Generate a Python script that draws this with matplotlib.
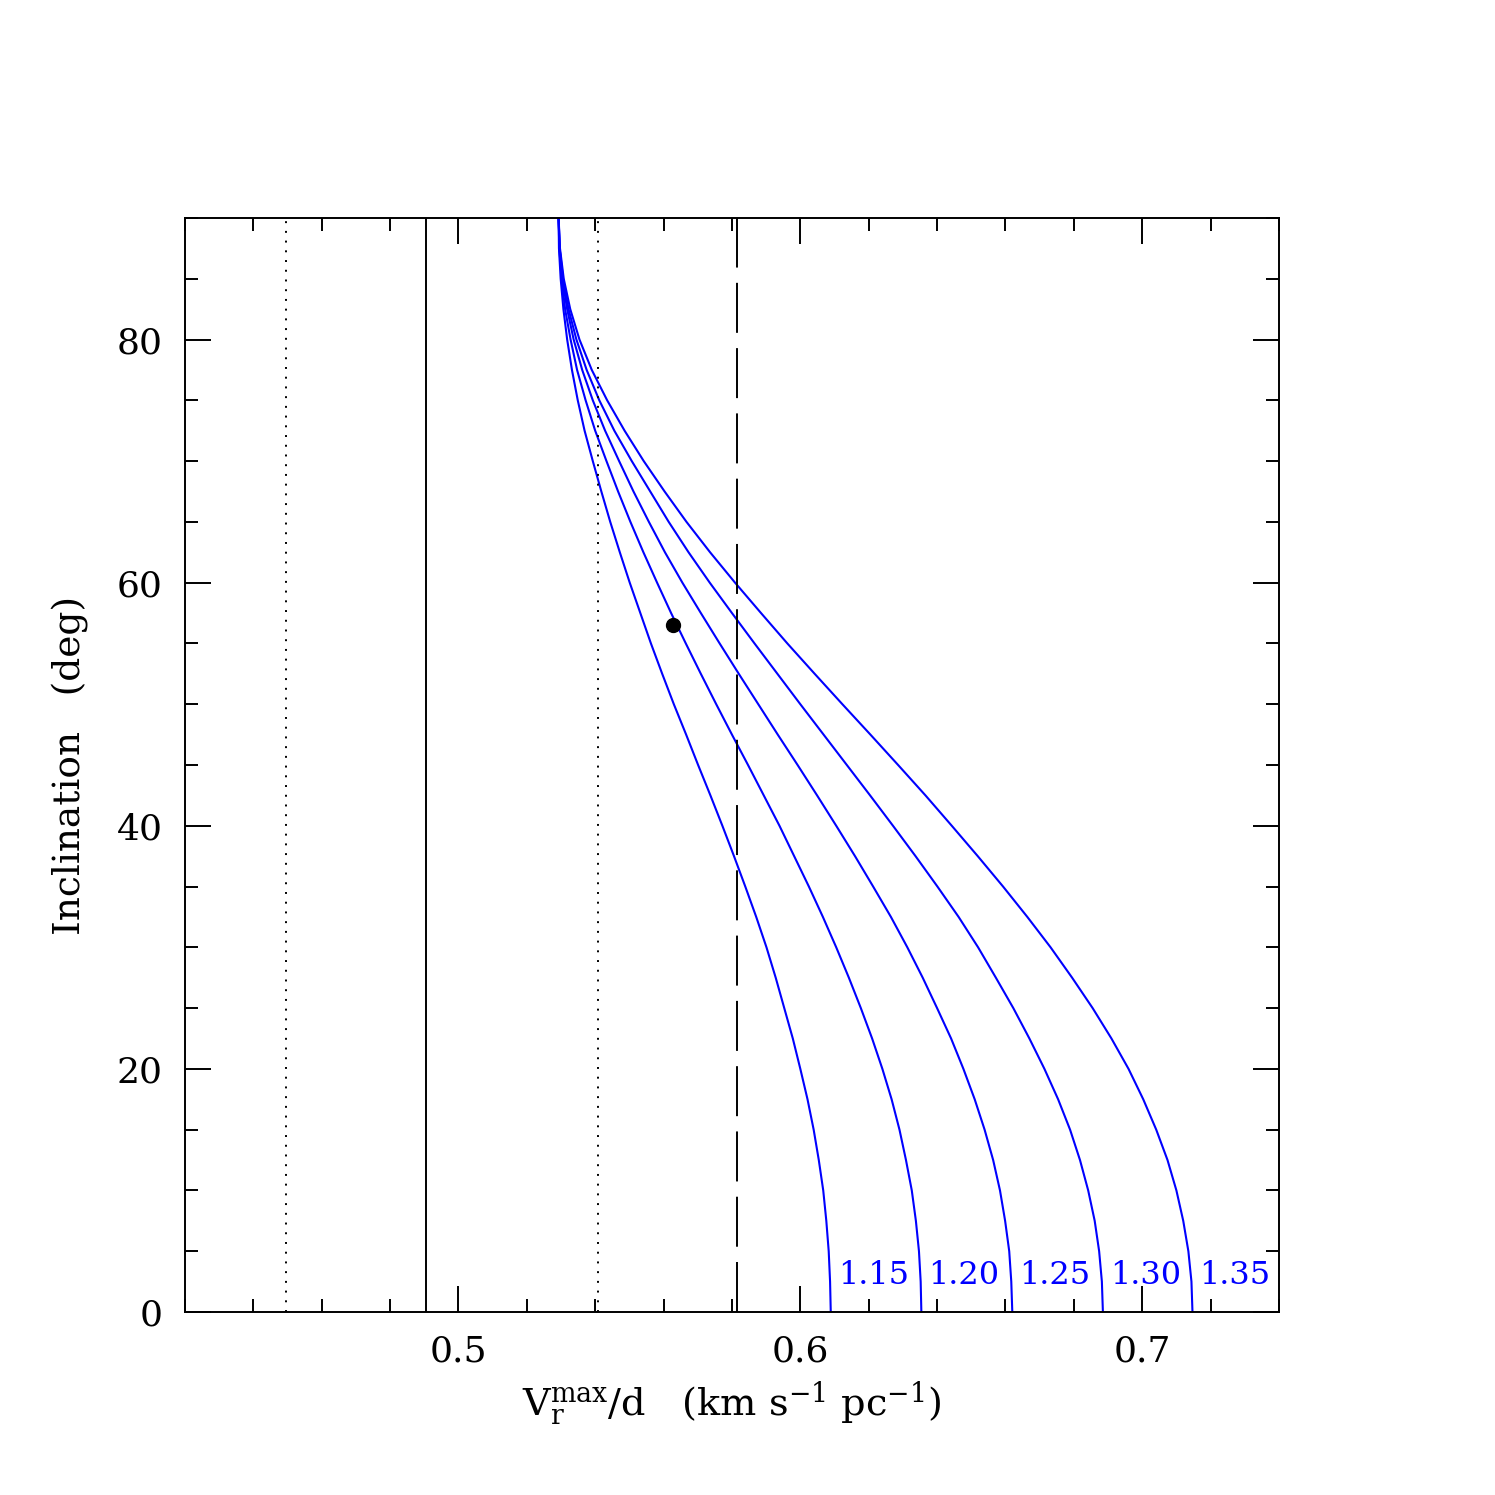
import matplotlib
matplotlib.use('Agg')
import matplotlib.pyplot as plt
from matplotlib.ticker import MultipleLocator

plt.rcParams['font.family'] = 'DejaVu Serif'
plt.rcParams['mathtext.fontset'] = 'dejavuserif'
plt.rcParams['lines.scale_dashes'] = False

# inclination (deg) at which the curves were read
incl = [0, 2.5, 5, 7.5, 10, 12.5, 15, 17.5, 20, 22.5, 25, 27.5, 30, 32.5, 35, 37.5,
        40, 42.5, 45, 47.5, 50, 52.5, 55, 57.5, 60, 62.5, 65, 67.5, 70, 72.5, 75,
        77.5, 80, 82.5, 85, 87.5, 90]

# V_r^max / d for each ratio
ratio_labels = ['1.15', '1.20', '1.25', '1.30', '1.35']
v115 = [0.6089, 0.6087, 0.6083, 0.6076, 0.6067, 0.6054, 0.6039, 0.6021, 0.6000, 0.5978,
        0.5953, 0.5928, 0.5901, 0.5871, 0.5839, 0.5806, 0.5772, 0.5737, 0.5701, 0.5666,
        0.5630, 0.5596, 0.5563, 0.5532, 0.5501, 0.5472, 0.5444, 0.5418, 0.5393, 0.5369,
        0.5349, 0.5332, 0.5318, 0.5307, 0.5299, 0.5294, 0.5293]
v120 = [0.6354, 0.6352, 0.6347, 0.6338, 0.6326, 0.6309, 0.6290, 0.6267, 0.6240, 0.6210,
        0.6177, 0.6142, 0.6105, 0.6066, 0.6025, 0.5982, 0.5939, 0.5893, 0.5847, 0.5800,
        0.5754, 0.5709, 0.5665, 0.5622, 0.5581, 0.5541, 0.5503, 0.5467, 0.5433, 0.5400,
        0.5372, 0.5347, 0.5328, 0.5312, 0.5302, 0.5295, 0.5293]
v125 = [0.6620, 0.6617, 0.6611, 0.6599, 0.6584, 0.6564, 0.6539, 0.6510, 0.6477, 0.6441,
        0.6400, 0.6358, 0.6313, 0.6265, 0.6213, 0.6160, 0.6105, 0.6049, 0.5992, 0.5934,
        0.5877, 0.5820, 0.5764, 0.5709, 0.5655, 0.5604, 0.5557, 0.5512, 0.5470, 0.5429,
        0.5393, 0.5362, 0.5337, 0.5318, 0.5304, 0.5296, 0.5293]
v130 = [0.6885, 0.6882, 0.6874, 0.6861, 0.6842, 0.6818, 0.6789, 0.6754, 0.6714, 0.6670,
        0.6623, 0.6572, 0.6520, 0.6463, 0.6401, 0.6337, 0.6271, 0.6204, 0.6136, 0.6068,
        0.6000, 0.5933, 0.5866, 0.5800, 0.5735, 0.5673, 0.5615, 0.5561, 0.5507, 0.5456,
        0.5412, 0.5375, 0.5345, 0.5322, 0.5306, 0.5296, 0.5293]
v135 = [0.7147, 0.7144, 0.7135, 0.7120, 0.7100, 0.7074, 0.7041, 0.7003, 0.6960, 0.6910,
        0.6855, 0.6795, 0.6732, 0.6664, 0.6593, 0.6519, 0.6443, 0.6366, 0.6286, 0.6205,
        0.6123, 0.6042, 0.5962, 0.5885, 0.5809, 0.5736, 0.5667, 0.5603, 0.5542, 0.5486,
        0.5435, 0.5390, 0.5354, 0.5327, 0.5308, 0.5297, 0.5293]
curves = [v115, v120, v125, v130, v135]

# vertical reference lines
v_solid = 0.4906
v_dotted = [0.4496, 0.5407]
v_dashed = 0.5816

# measured point
pt_x = 0.5629
pt_y = 56.5

fig = plt.figure(figsize=(14.95, 14.95), dpi=100)
ax = fig.add_axes([0.1237, 0.1224, 0.8555 - 0.1237, 0.8542 - 0.1224])

for xs, lab in zip(curves, ratio_labels):
    ax.plot(xs, incl, color='blue', lw=1.5)
    ax.annotate(lab, (xs[0], 0), xytext=(5, 20), textcoords='offset points',
                color='blue', fontsize=23, ha='left', va='baseline')

ax.axvline(v_solid, color='black', lw=1.4)
for v in v_dotted:
    ax.axvline(v, color='black', lw=1.4, dashes=(1.4, 5.6))
ax.axvline(v_dashed, color='black', lw=1.4, dashes=(36, 11))

ax.plot([pt_x], [pt_y], 'o', color='black', ms=10)

ax.set_xlim(0.42, 0.74)
ax.set_ylim(0, 90)
ax.xaxis.set_major_locator(MultipleLocator(0.1))
ax.xaxis.set_minor_locator(MultipleLocator(0.02))
ax.yaxis.set_major_locator(MultipleLocator(20))
ax.yaxis.set_minor_locator(MultipleLocator(5))
ax.tick_params(which='both', direction='in', top=True, right=True, width=1.4)
ax.tick_params(which='major', length=18.5, labelsize=26, pad=16)
ax.tick_params(which='minor', length=9.3)
ax.xaxis.set_major_formatter(plt.FuncFormatter(lambda v, p: f'{v:.1f}'))
ax.yaxis.set_major_formatter(plt.FuncFormatter(lambda v, p: f'{v:.0f}'))
for s in ax.spines.values():
    s.set_linewidth(1.4)

ax.set_xlabel(r'V$_{\rm r}^{\rm max}$/d   (km s$^{-1}$ pc$^{-1}$)', fontsize=27.5, labelpad=8)
ax.set_ylabel('Inclination   (deg)', fontsize=27, labelpad=20)

fig.savefig('out.png', dpi=100)
